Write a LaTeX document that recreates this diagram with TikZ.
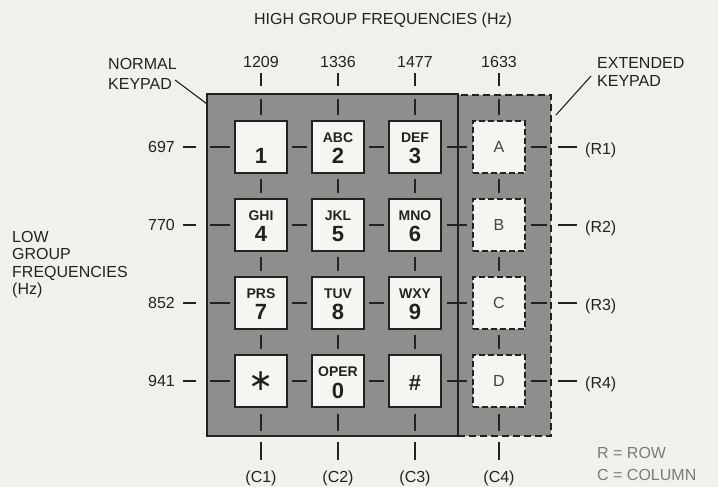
\documentclass[tikz,border=0pt]{standalone}
\usepackage{fontspec}
\setmainfont{Liberation Sans}
\newfontfamily\symfont{DejaVu Sans}
\usetikzlibrary{calc}
\definecolor{paper}{HTML}{F1F0EC}
\definecolor{padgray}{HTML}{8E8E8C}
\definecolor{keywhite}{HTML}{F5F5F2}
\definecolor{ink}{HTML}{222222}
\definecolor{faint}{HTML}{7A7A78}
\begin{document}
\begin{tikzpicture}[x=1pt,y=-1pt,
  lbl/.style={font=\fontsize{16}{18}\selectfont, text=ink, inner sep=0pt},
  keybox/.style={draw=ink, line width=1.6pt, fill=keywhite, minimum size=52pt, inner sep=0pt},
  extkey/.style={keybox, dash pattern=on 6pt off 3pt},
  letters/.style={font=\fontsize{14}{14}\selectfont\bfseries, text=ink, inner sep=0pt, anchor=base},
  digit/.style={font=\fontsize{22}{22}\selectfont\bfseries, text=ink, inner sep=0pt, anchor=base},
  extlbl/.style={font=\fontsize{16}{16}\selectfont, text=ink!85, inner sep=0pt},
  conn/.style={draw=ink, line width=1.4pt},
  leader/.style={draw=ink, line width=1.1pt}
]
\fill[paper] (0,0) rectangle (718,487);
\useasboundingbox (0,0) rectangle (718,487);

% keypad regions
\node[fill=padgray, draw=ink, line width=1.6pt, dash pattern=on 7pt off 4pt,
      minimum width=93pt, minimum height=341pt, inner sep=0pt] (eb) at (504.5,265.5) {};
\node[fill=padgray, draw=ink, line width=1.7pt,
      minimum width=251pt, minimum height=342pt, inner sep=0pt] (nb) at (332.5,265) {};

% keys
\foreach \r/\y in {1/147,2/225,3/303,4/381}{
  \foreach \c/\x in {1/261,2/338,3/415}{
    \node[keybox] (k\r\c) at (\x,\y) {};
  }
  \node[extkey] (k\r4) at (499,\y) {};
}

% key legends
\node[digit] at ($(k11.center)+(0,16)$) {1};
\node[letters] at ($(k12.center)+(0,-5)$) {ABC};
\node[digit] at ($(k12.center)+(0,16)$) {2};
\node[letters] at ($(k13.center)+(0,-5)$) {DEF};
\node[digit] at ($(k13.center)+(0,16)$) {3};
\node[letters] at ($(k21.center)+(0,-5)$) {GHI};
\node[digit] at ($(k21.center)+(0,16)$) {4};
\node[letters] at ($(k22.center)+(0,-5)$) {JKL};
\node[digit] at ($(k22.center)+(0,16)$) {5};
\node[letters] at ($(k23.center)+(0,-5)$) {MNO};
\node[digit] at ($(k23.center)+(0,16)$) {6};
\node[letters] at ($(k31.center)+(0,-5)$) {PRS};
\node[digit] at ($(k31.center)+(0,16)$) {7};
\node[letters] at ($(k32.center)+(0,-5)$) {TUV};
\node[digit] at ($(k32.center)+(0,16)$) {8};
\node[letters] at ($(k33.center)+(0,-5)$) {WXY};
\node[digit] at ($(k33.center)+(0,16)$) {9};
\node[text=ink, inner sep=0pt] at (k41.center) {\symfont\fontsize{30}{30}\selectfont ∗};
\node[letters] at ($(k42.center)+(0,-5)$) {OPER};
\node[digit] at ($(k42.center)+(0,17)$) {0};
\node[digit, anchor=center] at ($(k43.center)+(0,2)$) {\#};
\node[extlbl] at (k14.center) {A};
\node[extlbl] at (k24.center) {B};
\node[extlbl] at (k34.center) {C};
\node[extlbl] at (k44.center) {D};

% row / column lines inside the pad
\foreach \r in {1,2,3,4}{
  \draw[conn, shorten <=4.5pt, shorten >=4.5pt] (k\r1.east) -- (k\r2.west);
  \draw[conn, shorten <=4.5pt, shorten >=4.5pt] (k\r2.east) -- (k\r3.west);
  \draw[conn, shorten <=5pt, shorten >=5pt] (k\r3.east) -- (k\r4.west);
  \draw[conn, shorten <=4pt, shorten >=4pt] (k\r1.west) -- (k\r1.west -| nb.west);
  \draw[conn, shorten <=5pt, shorten >=5pt] (k\r4.east) -- (k\r4.east -| eb.east);
}
\foreach \c in {1,2,3,4}{
  \draw[conn, shorten <=5pt, shorten >=5pt] (k1\c.south) -- (k2\c.north);
  \draw[conn, shorten <=5pt, shorten >=5pt] (k2\c.south) -- (k3\c.north);
  \draw[conn, shorten <=5pt, shorten >=5pt] (k3\c.south) -- (k4\c.north);
  \draw[conn, shorten <=5pt, shorten >=6pt] (k1\c.north) -- (k1\c.north |- nb.north);
  \draw[conn, shorten <=6pt, shorten >=6pt] (k4\c.south) -- (k4\c.south |- nb.south);
}

% low group frequencies (rows)
\foreach \r/\y/\f in {1/147/697, 2/225/770, 3/303/852, 4/381/941}{
  \node[lbl, anchor=base east] (lf\r) at (175,\y+5) {\f};
  \node[lbl, anchor=base west] (rr\r) at (585,\y+7) {(R\r)};
  \draw[conn, shorten <=10pt, shorten >=8pt] (k\r1.west -| nb.west) -- (lf\r.east |- k\r1.west);
  \draw[conn, shorten <=6pt, shorten >=8pt] (k\r4.east -| eb.east) -- (rr\r.west |- k\r4.east);
}

% high group frequencies (columns)
\foreach \c/\x/\f in {1/261/1209, 2/338/1336, 3/415/1477, 4/499/1633}{
  \node[lbl, anchor=base] (hf\c) at (\x,68) {\f};
  \node[lbl, anchor=base] (cc\c) at (\x,482) {(C\c)};
  \draw[conn, shorten <=7pt, shorten >=5pt] (k1\c.north |- nb.north) -- (hf\c.south);
  \draw[conn, shorten <=5pt, shorten >=10pt] (k4\c.south |- nb.south) -- (cc\c.north);
}

% titles and notes
\node[lbl, anchor=base] (title) at (383,25) {HIGH GROUP FREQUENCIES (Hz)};

\node[lbl, anchor=base west] (nk1) at (108,70) {NORMAL};
\node[lbl, anchor=base west] (nk2) at (108,89) {KEYPAD};
\coordinate (nkA) at (175,80);
\coordinate (nkB) at (207,104);
\draw[leader] (nkA) -- (nkB);

\node[lbl, anchor=base west] (ek1) at (597,69) {EXTENDED};
\node[lbl, anchor=base west] (ek2) at (597,87) {KEYPAD};
\coordinate (ekA) at (591,76);
\coordinate (ekB) at (556,115);
\draw[leader] (ekA) -- (ekB);

\node[lbl, anchor=base west] (lg1) at (12,242) {LOW};
\node[lbl, anchor=base west] (lg2) at (12,259.5) {GROUP};
\node[lbl, anchor=base west] (lg3) at (12,277) {FREQUENCIES};
\node[lbl, anchor=base west] (lg4) at (12,294.5) {(Hz)};

\node[lbl, text=faint, anchor=base west] (key1) at (597,458) {R = ROW};
\node[lbl, text=faint, anchor=base west] (key2) at (597,480) {C = COLUMN};
\end{tikzpicture}
\end{document}
